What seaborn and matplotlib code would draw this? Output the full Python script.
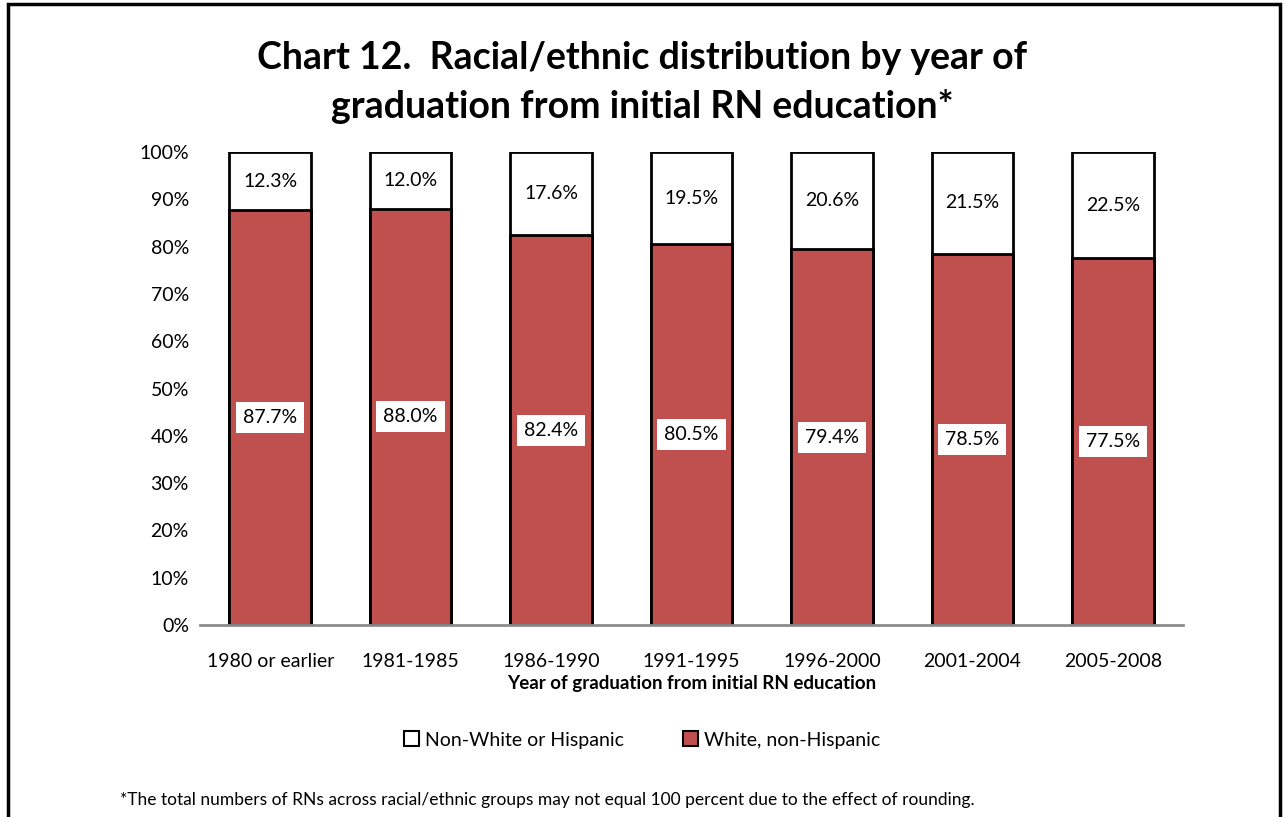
import pandas as pd
import matplotlib.pyplot as plt
import seaborn as sns
from matplotlib.patches import Patch, Rectangle
from matplotlib.ticker import PercentFormatter

# data
periods = ['1980 or earlier', '1981-1985', '1986-1990', '1991-1995',
           '1996-2000', '2001-2004', '2005-2008']
white_non_hispanic = [87.7, 88.0, 82.4, 80.5, 79.4, 78.5, 77.5]
non_white_or_hispanic = [12.3, 12.0, 17.6, 19.5, 20.6, 21.5, 22.5]

RED = '#C0504D'

sns.set_theme(style='white')
plt.rcParams['font.family'] = ['Lato', 'DejaVu Sans']
plt.rcParams['text.color'] = 'black'
plt.rcParams['axes.labelcolor'] = 'black'

df = pd.DataFrame({'period': periods,
                   'white': white_non_hispanic,
                   'nonwhite': non_white_or_hispanic})
df['total'] = df['white'] + df['nonwhite']

fig = plt.figure(figsize=(12.84, 8.17), dpi=100)
ax = fig.add_axes([200 / 1284, 1 - 625 / 817, 983 / 1284, 473 / 817])

# top (white) segment drawn as full stack, red drawn over it
sns.barplot(data=df, x='period', y='total', order=periods, color='white',
            edgecolor='black', linewidth=2, width=0.58, saturation=1, ax=ax)
sns.barplot(data=df, x='period', y='white', order=periods, color=RED,
            edgecolor='black', linewidth=2, width=0.58, saturation=1, ax=ax)

for i, row in df.iterrows():
    ax.text(i, row['white'] / 2, f"{row['white']:.1f}%", ha='center', va='center',
            fontsize=14, color='black',
            bbox=dict(facecolor='white', edgecolor='none', pad=5))
    ax.text(i, row['white'] + row['nonwhite'] / 2, f"{row['nonwhite']:.1f}%",
            ha='center', va='center', fontsize=14, color='black')

ax.set_ylim(0, 100)
ax.set_xlim(-0.5, len(periods) - 0.5)
ax.set_yticks(range(0, 101, 10))
ax.yaxis.set_major_formatter(PercentFormatter(decimals=0))
ax.tick_params(axis='both', labelsize=14, length=0, colors='black')
ax.tick_params(axis='x', pad=20)
ax.tick_params(axis='y', pad=8)
for s in ['top', 'right', 'left']:
    ax.spines[s].set_visible(False)
ax.spines['bottom'].set_color('#8C8C8C')
ax.spines['bottom'].set_linewidth(2)
ax.set_ylabel('')
ax.set_xlabel('Year of graduation from initial RN education', fontsize=13.5,
              fontweight='bold', labelpad=4)

fig.text(0.5, 1 - 58 / 817, 'Chart 12.  Racial/ethnic distribution by year of',
         ha='center', va='center', fontsize=27, fontweight='bold')
fig.text(0.5, 1 - 106 / 817, 'graduation from initial RN education*',
         ha='center', va='center', fontsize=27, fontweight='bold')

handles = [Patch(facecolor='white', edgecolor='black', linewidth=1.5,
                 label='Non-White or Hispanic'),
           Patch(facecolor=RED, edgecolor='black', linewidth=1.5,
                 label='White, non-Hispanic')]
fig.legend(handles=handles, loc='center', bbox_to_anchor=(0.5, 1 - 740 / 817),
           ncol=2, frameon=False, fontsize=14, handlelength=0.8,
           handleheight=0.8, handletextpad=0.3, columnspacing=3)

fig.text(120 / 1284, 1 - 800 / 817,
         '*The total numbers of RNs across racial/ethnic groups may not equal 100 '
         'percent due to the effect of rounding.',
         ha='left', va='center', fontsize=12.5)

fig.patches.append(Rectangle((8 / 1284, -0.05), 1272 / 1284, 1.05 - 4 / 817,
                             transform=fig.transFigure, fill=False,
                             edgecolor='black', linewidth=2.5, clip_on=False))

fig.savefig('out.png', dpi=100)
